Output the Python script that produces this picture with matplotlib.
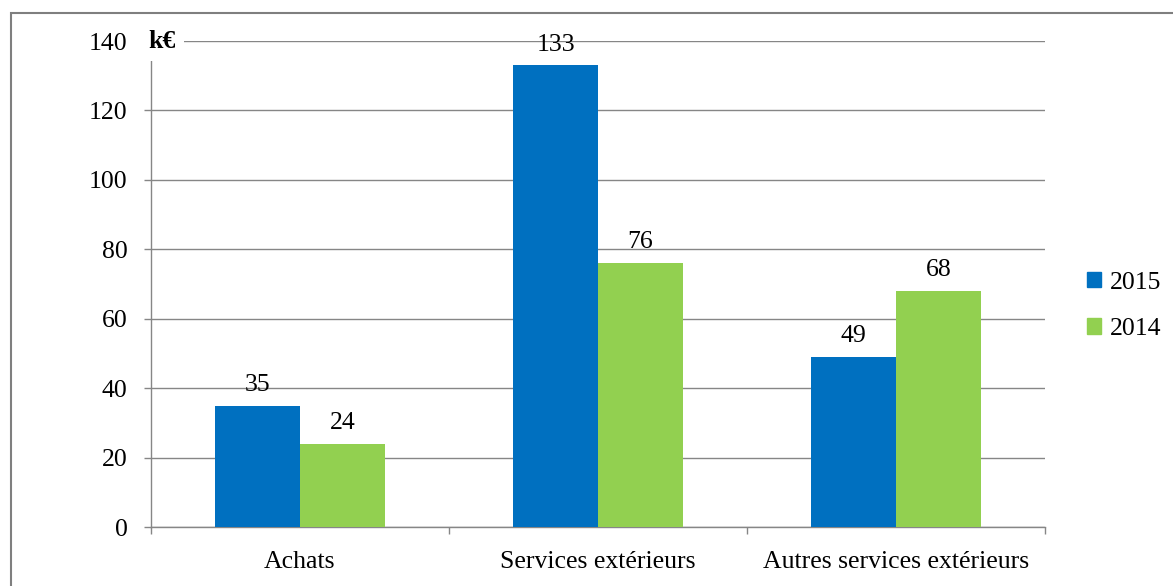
import numpy as np
import matplotlib
matplotlib.use("Agg")
import matplotlib.pyplot as plt
from matplotlib.patches import Rectangle, Patch

plt.rcParams['font.family'] = ['Liberation Serif', 'DejaVu Serif']

# charges par poste (k€)
categories = ['Achats', 'Services extérieurs', 'Autres services extérieurs']
years = ['2015', '2014']
values_2015 = [35, 133, 49]
values_2014 = [24, 76, 68]
colors = ['#0070C0', '#92D050']
grid_color = '#868686'
fs = 18.5

fig = plt.figure(figsize=(11.73, 5.86), dpi=100)
ax = fig.add_axes([151/1173, 59/586, 894/1173, 486/586])

x = np.arange(len(categories))
w = 0.285
b1 = ax.bar(x - w/2, values_2015, w, color=colors[0], label=years[0], zorder=3)
b2 = ax.bar(x + w/2, values_2014, w, color=colors[1], label=years[1], zorder=3)
ax.bar_label(b1, padding=7, fontsize=fs)
ax.bar_label(b2, padding=7, fontsize=fs)

ax.set_xlim(-0.5, len(categories) - 0.5)
ax.set_ylim(0, 140)
ax.set_yticks(np.arange(0, 141, 20))
ax.yaxis.grid(True, color=grid_color, linewidth=1.0, zorder=0)
ax.set_axisbelow(True)

ax.set_xticks(x)
ax.set_xticklabels(categories)
ax.set_xticks(np.arange(-0.5, len(categories)), minor=True)
ax.tick_params(axis='x', which='major', length=0, pad=17, labelsize=fs)
ax.tick_params(axis='x', which='minor', length=5, color=grid_color, width=1.0)
ax.tick_params(axis='y', length=5, color=grid_color, width=1.0, pad=12, labelsize=fs)

for s in ['top', 'right']:
    ax.spines[s].set_visible(False)
for s in ['left', 'bottom']:
    ax.spines[s].set_color(grid_color)
    ax.spines[s].set_linewidth(1.0)

# unité en haut de l'axe
ax.text(-0.464, 140, 'k€', fontsize=fs, fontweight='bold', ha='center', va='center',
        bbox=dict(boxstyle='square,pad=0.35', fc='white', ec='none'), zorder=5, clip_on=False)

handles = [Patch(color=c) for c in colors]
fig.legend(handles, years, loc='center left', bbox_to_anchor=(1064/1173, 0.478),
           frameon=False, fontsize=fs, handlelength=0.55, handleheight=0.55,
           handletextpad=0.35, labelspacing=0.95)

# cadre du graphique
fig.patches.append(Rectangle((11/1173, -0.05), 1.2, 1 - 13/586 + 0.05, transform=fig.transFigure,
                             fill=False, ec='#7f7f7f', lw=1.5, zorder=0))

fig.savefig('out.png', dpi=100)
